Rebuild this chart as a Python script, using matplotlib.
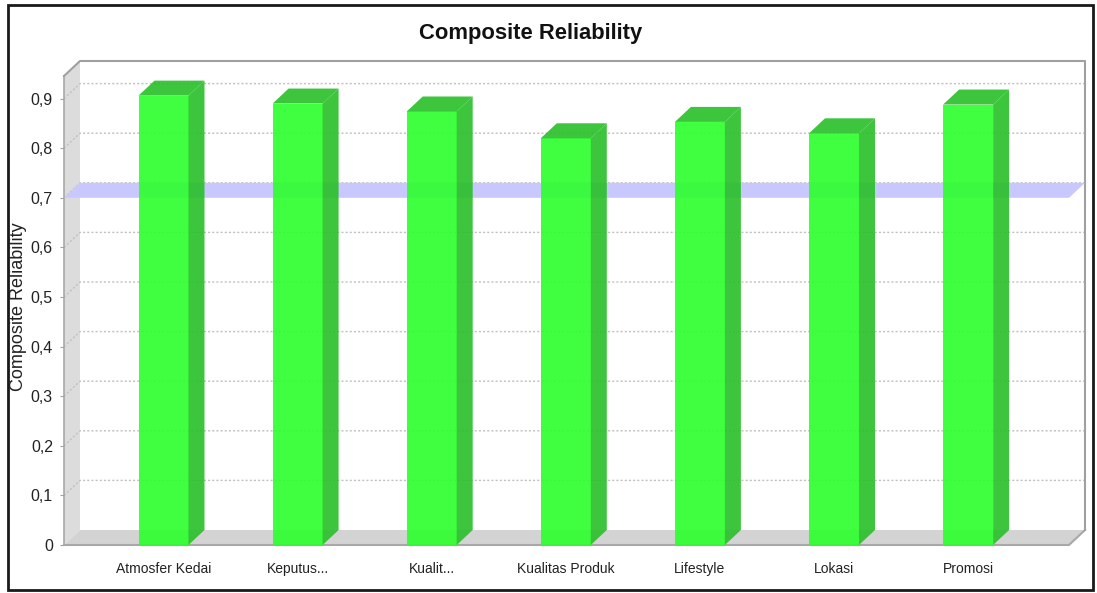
import matplotlib
matplotlib.use("Agg")
import matplotlib.pyplot as plt
from matplotlib.patches import Polygon, Rectangle
import numpy as np

categories = ["Atmosfer Kedai", "Keputus...", "Kualit...", "Kualitas Produk",
              "Lifestyle", "Lokasi", "Promosi"]
reliability = [0.906, 0.890, 0.874, 0.820, 0.853, 0.830, 0.888]
threshold = 0.7
y_ticks = [0.0, 0.1, 0.2, 0.3, 0.4, 0.5, 0.6, 0.7, 0.8, 0.9]
y_tick_labels = ["0", "0,1", "0,2", "0,3", "0,4", "0,5", "0,6", "0,7", "0,8", "0,9"]

font = ["Liberation Sans", "DejaVu Sans"]

# colours are pre-compensated for alpha 0.9 over white
front_col = "#2bff2b"
side_col = "#28c028"
band_col = "#c8c8ff"
floor_col = "#d3d3d3"
wall_col = "#dcdcdc"
grid_col = "#c0c0c0"

W, H = 1097, 593
fig = plt.figure(figsize=(W / 100, H / 100), dpi=100)
fig.patch.set_facecolor("white")

# axes box in pixels (front plane left/bottom, back plane right/top)
left_px, right_px, top_px, bottom_px = 64, 1085, 61, 545
ax = fig.add_axes([left_px / W, 1 - bottom_px / H,
                   (right_px - left_px) / W, (bottom_px - top_px) / H])

px_x = 134.1   # pixels per category
px_y = 496.0   # pixels per unit of value
x0_px = 163.5  # pixel of first category centre
xl = (left_px - x0_px) / px_x
xr = (right_px - x0_px) / px_x
ytop = (bottom_px - top_px) / px_y
dx = 16 / px_x
dy = 15 / px_y
bw = 50 / px_x

ax.set_xlim(xl, xr)
ax.set_ylim(0, ytop)
for s in ax.spines.values():
    s.set_visible(False)
ax.patch.set_alpha(0)

xf = xr - dx  # right end of the front plane

# left wall and floor
ax.add_patch(Polygon([(xl, 0), (xl, ytop - dy), (xl + dx, ytop), (xl + dx, dy)],
                     closed=True, facecolor=wall_col, edgecolor="none", zorder=1))
ax.add_patch(Polygon([(xl, 0), (xf, 0), (xr, dy), (xl + dx, dy)],
                     closed=True, facecolor=floor_col, edgecolor="none", zorder=1))
ax.plot([xl, xf, xr], [0, 0, dy], color="#a8a8a8", lw=1.5, zorder=2, clip_on=False)
ax.plot([xl, xl], [0, ytop - dy], color="#a8a8a8", lw=1.2, zorder=2, clip_on=False)
ax.plot([xl, xl + dx, xr, xr], [ytop - dy, ytop, ytop, dy], color="#a0a0a0", lw=1.5,
        zorder=2, clip_on=False)

# dotted grid on left wall and back wall
for v in y_ticks[1:]:
    ax.plot([xl, xl + dx, xr], [v, v + dy, v + dy], color=grid_col, lw=1,
            linestyle=(0, (1.5, 1.5)), zorder=1.5)

# threshold plane
ax.add_patch(Polygon([(xl, threshold), (xf, threshold), (xr, threshold + dy),
                      (xl + dx, threshold + dy)],
                     closed=True, facecolor=band_col, edgecolor="none", zorder=3))

# 3D bars
idx = np.arange(len(categories))
for i, v in zip(idx, reliability):
    a, b = i - bw / 2, i + bw / 2
    ax.add_patch(Rectangle((a, 0), bw, v, facecolor=front_col, edgecolor="none",
                           alpha=0.9, zorder=4))
    ax.add_patch(Polygon([(b, 0), (b + dx, dy), (b + dx, v + dy), (b, v)], closed=True,
                         facecolor=side_col, edgecolor="none", alpha=0.9, zorder=4))
    ax.add_patch(Polygon([(a, v), (b, v), (b + dx, v + dy), (a + dx, v + dy)], closed=True,
                         facecolor=side_col, edgecolor="none", alpha=0.9, zorder=4))

ax.set_yticks(y_ticks)
ax.set_yticklabels(y_tick_labels, family=font, fontsize=11.5, color="#222222")
ax.tick_params(axis="y", length=3, pad=5, color="#a0a0a0")
ax.set_xticks(idx)
ax.set_xticklabels(categories, family=font, fontsize=10, color="#222222")
ax.tick_params(axis="x", length=0, pad=12)

fig.text(531 / W, 1 - 34 / H, "Composite Reliability", ha="center", va="center",
         family=font, fontsize=15.8, fontweight="bold", color="#111111")
fig.text(19 / W, 1 - 307 / H, "Composite Reliability", ha="center", va="center",
         rotation=90, family=font, fontsize=13, color="#222222")

# outer frame
fig.add_artist(Rectangle((8 / W, 1 - 590 / H), 1085 / W, 585 / H,
                         transform=fig.transFigure, fill=False,
                         edgecolor="#1a1a1a", lw=2))

fig.savefig("out.png", dpi=100)
